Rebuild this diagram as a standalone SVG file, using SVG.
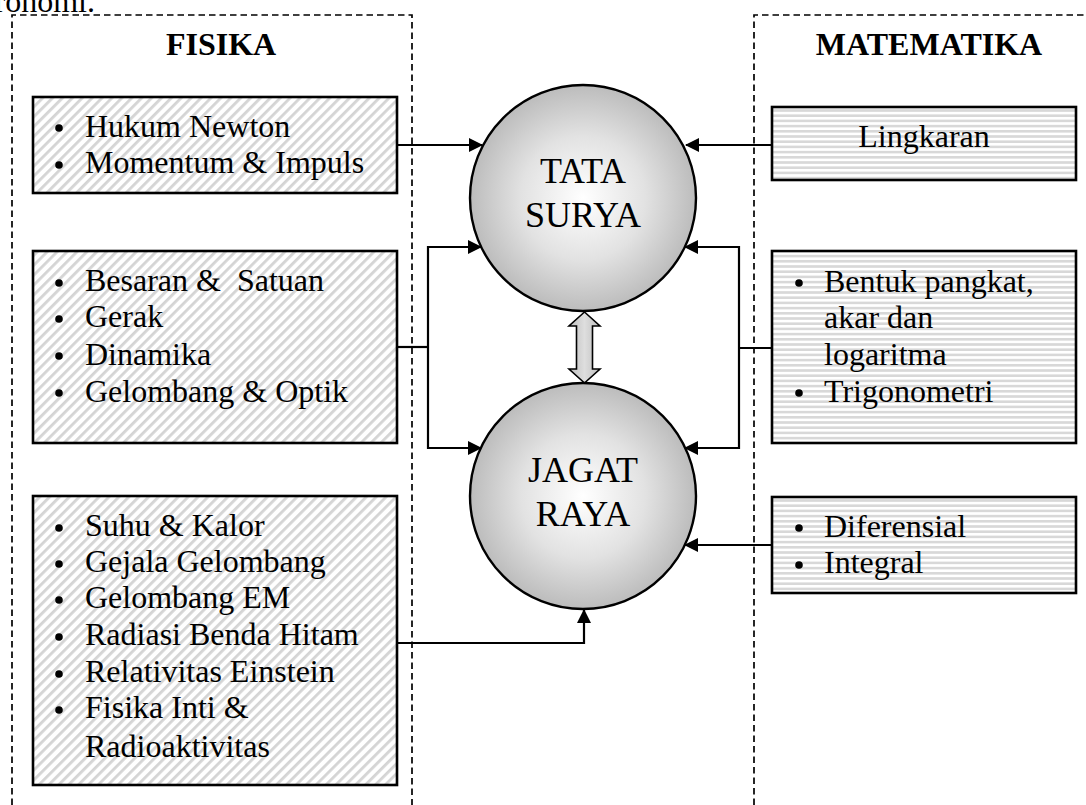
<svg xmlns="http://www.w3.org/2000/svg" width="1086" height="805" viewBox="0 0 1086 805">
<style>
text{font-family:"Liberation Serif","Times New Roman",serif;fill:#000}
.t{font-size:32px}
.h{font-size:32px;font-weight:bold;text-anchor:middle}
.c{font-size:36px;text-anchor:middle}
.dash{fill:none;stroke:#000;stroke-width:1.7;stroke-dasharray:6.5 4}
.box{stroke:#000;stroke-width:2.6}
.diag{fill:url(#diag)}
.hor{fill:url(#hor)}
.ball{fill:url(#rg);stroke:#000;stroke-width:2.4}
.ln{fill:none;stroke:#000;stroke-width:2.2}
.arr{marker-end:url(#ah)}
.b{fill:#000}
</style>
<defs>
<pattern id="diag" width="7" height="7" patternUnits="userSpaceOnUse" patternTransform="rotate(45)">
<rect width="7" height="7" fill="#fff"/>
<rect x="0" y="0" width="2.8" height="7" fill="#d4d4d4"/>
</pattern>
<pattern id="hor" width="6" height="5.2" patternUnits="userSpaceOnUse">
<rect width="6" height="5.2" fill="#fff"/>
<rect x="0" y="0" width="6" height="2.6" fill="#d8d8d8"/>
</pattern>
<radialGradient id="rg" cx="50%" cy="50%" r="50%">
<stop offset="0" stop-color="#ffffff"/>
<stop offset="0.55" stop-color="#e2e2e2"/>
<stop offset="1" stop-color="#bcbcbc"/>
</radialGradient>
<linearGradient id="ag" x1="0" y1="0" x2="1" y2="0">
<stop offset="0" stop-color="#bdbdbd"/>
<stop offset="0.5" stop-color="#dedede"/>
<stop offset="1" stop-color="#bdbdbd"/>
</linearGradient>
<marker id="ah" markerWidth="14" markerHeight="14" viewBox="0 0 14 14" refX="13" refY="7" orient="auto" markerUnits="userSpaceOnUse">
<path d="M0,0 L14,7 L0,14 Z" fill="#000"/>
</marker>
</defs>

<text class="t" x="95" y="12" text-anchor="end">ronomi.</text>

<g id="fisika-panel">
<path class="dash" d="M12,805 V15 H412 V805"/>
<text class="h" x="221" y="55">FISIKA</text>
</g>
<g id="matematika-panel">
<path class="dash" d="M754,805 V15 H1090"/>
<text class="h" x="929" y="55">MATEMATIKA</text>
</g>

<g id="connectors">
<line class="ln arr" x1="367" y1="145" x2="482" y2="145"/>
<line class="ln arr" x1="772" y1="145" x2="686" y2="145"/>
<polyline class="ln" points="397,347 428,347"/>
<polyline class="ln arr" points="428,347 428,247 481,247"/>
<polyline class="ln arr" points="428,347 428,448 481,448"/>
<polyline class="ln" points="772,348 739,348"/>
<polyline class="ln arr" points="739,348 739,247 685,247"/>
<polyline class="ln arr" points="739,348 739,448 685,448"/>
<line class="ln arr" x1="772" y1="545" x2="685" y2="545"/>
<polyline class="ln arr" points="397,643 584,643 584,610"/>
<path d="M584.5,312 L600,326 L592.5,326 L592.5,369 L600,369 L584.5,383 L569,369 L576.5,369 L576.5,326 L569,326 Z" fill="url(#ag)" stroke="#000" stroke-width="1.6" stroke-linejoin="miter"/>
</g>

<g id="box-newton">
<rect class="box diag" x="33" y="97" width="364" height="96"/>
<circle class="b" cx="59" cy="128" r="3.8"/>
<circle class="b" cx="59" cy="165" r="3.8"/>
<text class="t" x="85" y="137">Hukum Newton</text>
<text class="t" x="85" y="173">Momentum &amp; Impuls</text>
</g>

<g id="box-besaran">
<rect class="box diag" x="33" y="251" width="364" height="192"/>
<circle class="b" cx="59" cy="283" r="3.8"/>
<circle class="b" cx="59" cy="319" r="3.8"/>
<circle class="b" cx="59" cy="356" r="3.8"/>
<circle class="b" cx="59" cy="393" r="3.8"/>
<text class="t" x="85" y="291" xml:space="preserve">Besaran &amp;  Satuan</text>
<text class="t" x="85" y="327">Gerak</text>
<text class="t" x="85" y="365">Dinamika</text>
<text class="t" x="85" y="402">Gelombang &amp; Optik</text>
</g>

<g id="box-suhu">
<rect class="box diag" x="33" y="496" width="364" height="289"/>
<circle class="b" cx="59" cy="528" r="3.8"/>
<circle class="b" cx="59" cy="564" r="3.8"/>
<circle class="b" cx="59" cy="600" r="3.8"/>
<circle class="b" cx="59" cy="637" r="3.8"/>
<circle class="b" cx="59" cy="674" r="3.8"/>
<circle class="b" cx="59" cy="710" r="3.8"/>
<text class="t" x="85" y="536">Suhu &amp; Kalor</text>
<text class="t" x="85" y="572">Gejala Gelombang</text>
<text class="t" x="85" y="608">Gelombang EM</text>
<text class="t" x="85" y="645">Radiasi Benda Hitam</text>
<text class="t" x="85" y="682">Relativitas Einstein</text>
<text class="t" x="85" y="718">Fisika Inti &amp;</text>
<text class="t" x="85" y="757">Radioaktivitas</text>
</g>

<g id="tata-surya">
<circle class="ball" cx="583" cy="198" r="113"/>
<text class="c" x="583" y="183">TATA</text>
<text class="c" x="583" y="227">SURYA</text>
</g>

<g id="jagat-raya">
<circle class="ball" cx="583" cy="496" r="113"/>
<text class="c" x="583" y="482">JAGAT</text>
<text class="c" x="583" y="526">RAYA</text>
</g>

<g id="box-lingkaran">
<rect class="box hor" x="772" y="107" width="304" height="73"/>
<text class="t" x="924" y="147" text-anchor="middle">Lingkaran</text>
</g>

<g id="box-pangkat">
<rect class="box hor" x="772" y="251" width="304" height="192"/>
<circle class="b" cx="799" cy="283" r="3.8"/>
<circle class="b" cx="799" cy="393" r="3.8"/>
<text class="t" x="824" y="292">Bentuk pangkat,</text>
<text class="t" x="824" y="328">akar dan</text>
<text class="t" x="824" y="365">logaritma</text>
<text class="t" x="824" y="402">Trigonometri</text>
</g>

<g id="box-diferensial">
<rect class="box hor" x="772" y="497" width="304" height="96"/>
<circle class="b" cx="799" cy="528" r="3.8"/>
<circle class="b" cx="799" cy="565" r="3.8"/>
<text class="t" x="824" y="537">Diferensial</text>
<text class="t" x="824" y="573">Integral</text>
</g>
</svg>
